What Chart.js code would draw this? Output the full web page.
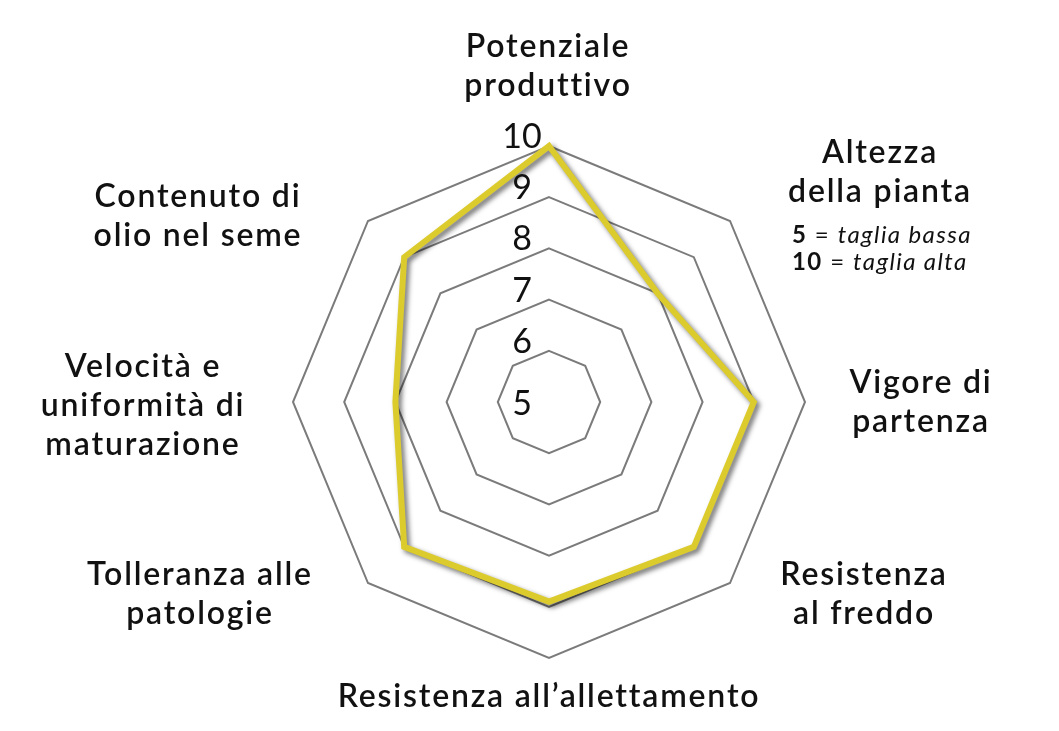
<!DOCTYPE html>
<html>
<head>
<meta charset="utf-8">
<script src="https://cdn.jsdelivr.net/npm/chart.js@4/dist/chart.umd.min.js"></script>
<style>
  html, body { margin: 0; padding: 0; background: #fff; }
  #wrap { width: 1059px; height: 731px; position: relative; }
</style>
</head>
<body>
<div id="wrap"><canvas id="radar"></canvas></div>
<script>
"use strict";

// categorie (in senso orario dall'alto)
let categorie = [
    ["Potenziale", "produttivo"],
    ["Altezza", "della pianta"],
    ["Vigore di", "partenza"],
    ["Resistenza", "al freddo"],
    ["Resistenza all\u2019allettamento"],
    ["Tolleranza alle", "patologie"],
    ["Velocità e", "uniformità di", "maturazione"],
    ["Contenuto di", "olio nel seme"]
];
let valori = [10, 8, 9, 9, 8.9, 9, 8, 9];
let scala_min = 5;
let scala_max = 10;
let tick_labels = ["5", "6", "7", "8", "9", "10"];

// posizione delle etichette rispetto al centro (x centro testo, baseline prima riga)
let pos_etichette = [
    [-1, -345], [331, -239], [372, -9], [315, 183],
    [0, 305], [-349, 183], [-406, -25], [-351, -195]
];

const FONT = "Lato, 'Open Sans', sans-serif";

let ombra = {
    id: "ombra",
    beforeDatasetDraw(chart) {
        let ctx = chart.ctx;
        ctx.save();
        ctx.shadowColor = "rgba(0,0,0,0.55)";
        ctx.shadowBlur = 5;
        ctx.shadowOffsetX = 3;
        ctx.shadowOffsetY = 3;
    },
    afterDatasetDraw(chart) {
        chart.ctx.restore();
    }
};

let testi = {
    id: "testi",
    afterDraw(chart) {
        let ctx = chart.ctx;
        let r = chart.scales.r;
        ctx.save();
        ctx.fillStyle = "#111";
        ctx.textAlign = "center";

        // etichette della scala
        ctx.font = "400 34px " + FONT;
        ctx.textBaseline = "middle";
        r.ticks.forEach(function (t, i) {
            let p = r.getPointPositionForValue(0, t.value);
            let dy = (t.value === scala_min) ? 2 : -9;
            ctx.fillText(tick_labels[i], p.x - 27, p.y + dy);
        });

        // etichette delle categorie
        ctx.textBaseline = "alphabetic";
        ctx.font = "600 32px " + FONT;
        ctx.letterSpacing = "1.8px";
        categorie.forEach(function (righe, i) {
            let x = r.xCenter + pos_etichette[i][0];
            let y = r.yCenter + pos_etichette[i][1];
            righe.forEach(function (riga, k) {
                ctx.fillText(riga, x, y + k * 39);
            });
        });

        // legenda altezza
        ctx.textAlign = "left";
        ctx.letterSpacing = "1.4px";
        let note = [["5", "taglia bassa"], ["10", "taglia alta"]];
        note.forEach(function (n, k) {
            let x = r.xCenter + 243;
            let y = r.yCenter - 159 + k * 27;
            ctx.font = "700 24px " + FONT;
            ctx.fillText(n[0], x, y);
            x += ctx.measureText(n[0]).width;
            ctx.font = "400 24px " + FONT;
            ctx.fillText(" = ", x, y);
            x += ctx.measureText(" = ").width;
            ctx.font = "italic 400 24px " + FONT;
            ctx.fillText(n[1], x, y);
        });
        ctx.restore();
    }
};

let canvas = document.getElementById("radar").getContext("2d");
let grafico = new Chart(canvas, {
    type: "radar",
    data: {
        labels: categorie,
        datasets: [{
            data: valori,
            borderColor: "#dccb2d",
            backgroundColor: "rgba(0,0,0,0)",
            borderWidth: 6,
            borderJoinStyle: "miter",
            fill: false,
            pointRadius: 0,
            pointHoverRadius: 0,
            tension: 0
        }]
    },
    options: {
        responsive: true,
        maintainAspectRatio: false,
        animation: false,
        layout: { padding: { left: 293, right: 254, top: 146, bottom: 73 } },
        plugins: {
            legend: { display: false },
            tooltip: { enabled: false }
        },
        scales: {
            r: {
                min: scala_min,
                max: scala_max,
                ticks: { stepSize: 1, display: false },
                grid: { color: "#7b7b7b", lineWidth: 2, circular: false },
                angleLines: { display: false },
                pointLabels: { display: false }
            }
        }
    },
    plugins: [ombra, testi]
});
</script>
</body>
</html>
